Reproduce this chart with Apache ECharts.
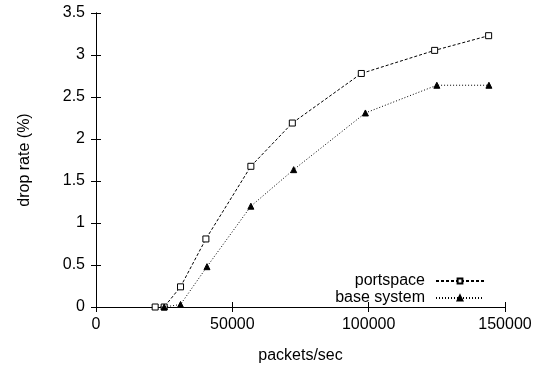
<!DOCTYPE html>
<html>
<head>
<meta charset="utf-8">
<script src="https://cdn.jsdelivr.net/npm/echarts@6/dist/echarts.min.js"></script>
<style>
  html, body { margin: 0; padding: 0; background: #fff; }
  #chart { width: 546px; height: 369px; }
</style>
</head>
<body>
<div id="chart"></div>
<script>
// values
var portspaceX = [21700, 25000, 31000, 40300, 56800, 72000, 97300, 124200, 144000];
var portspaceY = [0, 0, 0.24, 0.81, 1.675, 2.19, 2.78, 3.055, 3.23];
var baseX = [25000, 31000, 40700, 56800, 72500, 98800, 125000, 144100];
var baseY = [0, 0.03, 0.48, 1.2, 1.635, 2.31, 2.64, 2.64];

function pairs(xs, ys) {
  var out = [];
  for (var i = 0; i < xs.length; i++) out.push([xs[i], ys[i]]);
  return out;
}

var font = 'Liberation Sans, Arial, sans-serif';
var chart = echarts.init(document.getElementById('chart'));

var axisCommon = {
  axisLine: { show: true, lineStyle: { color: '#000', width: 1 } },
  axisTick: { show: true, inside: true, length: 5, lineStyle: { color: '#000' } },
  splitLine: { show: false }
};

var option = {
  animation: false,
  backgroundColor: '#fff',
  grid: { left: 96, right: 41, top: 13, bottom: 60 },
  legend: {
    orient: 'vertical',
    right: 56,
    bottom: 58,
    align: 'right',
    itemWidth: 48,
    itemHeight: 6,
    itemGap: 1,
    textStyle: { fontFamily: font, fontSize: 16, color: '#000', padding: [0, 6, 0, 0] },
    data: ['portspace', 'base system']
  },
  xAxis: [
    Object.assign({
      type: 'value', min: 0, max: 150000, interval: 50000,
      name: 'packets/sec', nameLocation: 'middle', nameGap: 41,
      nameTextStyle: { fontFamily: font, fontSize: 16, color: '#000' },
      axisLabel: { fontFamily: font, fontSize: 16, color: '#000', margin: 10,
        formatter: function (v) { return String(v); } }
    }, axisCommon),
    Object.assign({
      type: 'value', min: 0, max: 150000, interval: 50000, position: 'top',
      axisLabel: { show: false }
    }, axisCommon)
  ],
  yAxis: [
    Object.assign({
      type: 'value', min: 0, max: 3.5, interval: 0.5,
      name: 'drop rate (%)', nameLocation: 'middle', nameGap: 63,
      nameTextStyle: { fontFamily: font, fontSize: 16, color: '#000' },
      axisLabel: { fontFamily: font, fontSize: 16, color: '#000', margin: 11 }
    }, axisCommon),
    Object.assign({
      type: 'value', min: 0, max: 3.5, interval: 0.5, position: 'right',
      axisLabel: { show: false }
    }, axisCommon)
  ],
  series: [
    {
      name: 'portspace',
      type: 'line',
      data: pairs(portspaceX, portspaceY),
      symbol: 'rect',
      symbolSize: 6,
      color: '#000',
      lineStyle: { color: '#000', width: 1, type: [3, 2] },
      itemStyle: { color: '#fff', borderColor: '#000', borderWidth: 1 }
    },
    {
      name: 'base system',
      type: 'line',
      data: pairs(baseX, baseY),
      symbol: 'triangle',
      symbolSize: 6,
      color: '#000',
      lineStyle: { color: '#000', width: 1, type: [1, 2] },
      itemStyle: { color: '#000', borderColor: '#000', borderWidth: 1 }
    }
  ]
};

chart.setOption(option);
</script>
</body>
</html>
